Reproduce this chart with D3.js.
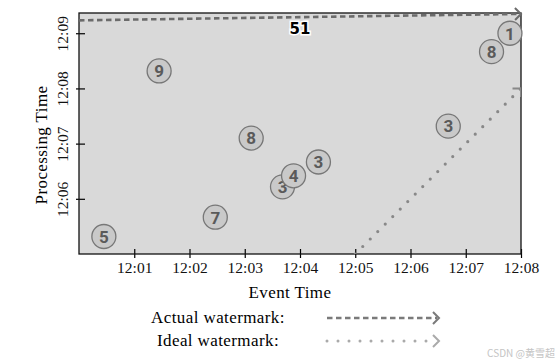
<!DOCTYPE html>
<html>
<head>
<meta charset="utf-8">
<script src="https://cdn.jsdelivr.net/npm/d3@7"></script>
<style>
  body { margin: 0; background: #fff; }
  svg text { font-family: "Liberation Serif", serif; }
</style>
</head>
<body>
<div id="chart"></div>
<script>
// Watermark chart
///

// points: label, event time, processing time
const pointLabels = [5, 9, 7, 8, 3, 4, 3, 3, 8, 1];
const eventTimes = ["12:00:27", "12:01:27", "12:02:28", "12:03:07", "12:03:41", "12:03:53", "12:04:20", "12:06:41", "12:07:28", "12:07:48"];
const procTimes = ["12:05:19", "12:08:19", "12:05:40", "12:07:06", "12:06:13", "12:06:25", "12:06:40", "12:07:19", "12:08:40", "12:09:00"];

// watermarks (event time, processing time)
const actualWm = [["12:00:00", "12:09:14"], ["12:08:00", "12:09:21"]];
const idealWm = [["12:05:00", "12:05:00"], ["12:08:00", "12:08:00"]];
const wmLabel = "51";
const wmLabelAt = ["12:04:00", "12:09:00"];

const xTicks = ["12:01", "12:02", "12:03", "12:04", "12:05", "12:06", "12:07", "12:08"];
const yTicks = ["12:06", "12:07", "12:08", "12:09"];
const xDomain = ["12:00:00", "12:08:00"];
const yDomain = ["12:05:00", "12:09:22"];

const legendItems = ["Actual watermark:", "Ideal watermark:"];

const w = 560, h = 364;
const m = { left: 79, right: 39, top: 13, bottom: 110 };

const parse = s => d3.timeParse("%H:%M:%S")(s.length == 5 ? s + ":00" : s);
const fmt = d3.timeFormat("%H:%M");

let svg = d3.select("#chart").append("svg")
	.attr("width", w).attr("height", h);

const x = d3.scaleTime().domain(xDomain.map(parse)).range([m.left, w - m.right]);
const y = d3.scaleTime().domain(yDomain.map(parse)).range([h - m.bottom, m.top]);

// plot background
svg.append("rect")
	.attr("x", m.left).attr("y", m.top)
	.attr("width", x.range()[1] - m.left).attr("height", y.range()[0] - m.top)
	.attr("fill", "#d9d9d9");

svg.append("clipPath").attr("id", "plot-clip").append("rect")
	.attr("x", m.left).attr("y", m.top - 10)
	.attr("width", x.range()[1] - m.left).attr("height", y.range()[0] - m.top + 10);

// axes
let xAxis = svg.append("g")
	.attr("transform", "translate(0," + y.range()[0] + ")")
	.call(d3.axisBottom(x).tickValues(xTicks.map(parse)).tickFormat(fmt).tickSize(5));
xAxis.select(".domain").remove();
xAxis.selectAll(".tick line").attr("y1", -5).attr("y2", 4).attr("stroke", "#000").attr("stroke-width", 1.2);
xAxis.selectAll(".tick text")
	.attr("y", 19).attr("dy", "0")
	.style("font-family", "Liberation Serif, serif").style("font-size", "15.5px").attr("fill", "#111");

let yAxis = svg.append("g")
	.attr("transform", "translate(" + m.left + ",0)")
	.call(d3.axisLeft(y).tickValues(yTicks.map(parse)).tickFormat(fmt).tickSize(5));
yAxis.select(".domain").remove();
yAxis.selectAll(".tick line").attr("x1", -3).attr("x2", 6).attr("stroke", "#000").attr("stroke-width", 1.2);
yAxis.selectAll(".tick text")
	.attr("transform", "rotate(-90)")
	.attr("x", 0).attr("y", -16).attr("dy", "0.35em")
	.attr("text-anchor", "middle")
	.style("font-family", "Liberation Serif, serif").style("font-size", "15.5px").attr("fill", "#111");

// frame
svg.append("rect")
	.attr("x", m.left).attr("y", m.top)
	.attr("width", x.range()[1] - m.left).attr("height", y.range()[0] - m.top)
	.attr("fill", "none").attr("stroke", "#111").attr("stroke-width", 1.3);

// axis titles
svg.append("text")
	.attr("x", (m.left + x.range()[1]) / 2 - 10).attr("y", 298)
	.attr("text-anchor", "middle")
	.style("font-size", "17px").style("letter-spacing", "0.4px")
	.text("Event Time");

svg.append("text")
	.attr("transform", "translate(47,145) rotate(-90)")
	.attr("text-anchor", "middle")
	.style("font-size", "17px").style("letter-spacing", "0.4px")
	.text("Processing Time");

// arrow head: chevron at end of a line
function chevron(g, x1, y1, x2, y2, color, sw) {
	let a = Math.atan2(y2 - y1, x2 - x1) * 180 / Math.PI;
	g.append("path")
		.attr("d", "M-6,-6L0,0L-6,6")
		.attr("transform", "translate(" + x2 + "," + y2 + ") rotate(" + a + ")")
		.attr("fill", "none").attr("stroke", color).attr("stroke-width", sw);
}

const line = d3.line().x(d => x(parse(d[0]))).y(d => y(parse(d[1])));

// ideal watermark
let ideal = svg.append("g").attr("clip-path", "url(#plot-clip)");
ideal.append("path")
	.attr("d", line(idealWm))
	.attr("fill", "none").attr("stroke", "#888").attr("stroke-width", 3.2)
	.attr("stroke-linecap", "round").attr("stroke-dasharray", "0,10.6");
chevron(ideal, x(parse(idealWm[0][0])), y(parse(idealWm[0][1])),
	x(parse(idealWm[1][0])), y(parse(idealWm[1][1])), "#888", 2);

// points
let pts = svg.append("g").selectAll("g")
	.data(pointLabels.map((d, i) => ({ label: d, ev: parse(eventTimes[i]), pr: parse(procTimes[i]) })))
	.enter().append("g")
	.attr("transform", d => "translate(" + x(d.ev) + "," + y(d.pr) + ")");
pts.append("circle")
	.attr("r", 12)
	.attr("fill", "#c9c9c9").attr("stroke", "#777").attr("stroke-width", 1.3);
pts.append("text")
	.attr("text-anchor", "middle").attr("dy", "0.37em")
	.style("font-family", "Roboto, sans-serif").style("font-weight", "bold").style("font-size", "17px")
	.attr("fill", "#5a5a5a")
	.text(d => d.label);

// actual watermark
let actual = svg.append("g");
actual.append("path")
	.attr("d", line(actualWm))
	.attr("fill", "none").attr("stroke", "#6b6b6b").attr("stroke-width", 2.6)
	.attr("stroke-dasharray", "5.5,3.5");
chevron(actual, x(parse(actualWm[0][0])), y(parse(actualWm[0][1])),
	x(parse(actualWm[1][0])), y(parse(actualWm[1][1])), "#6b6b6b", 2);

svg.append("text")
	.attr("x", x(parse(wmLabelAt[0]))).attr("y", y(parse(wmLabelAt[1])) + 1)
	.attr("text-anchor", "middle")
	.style("font-family", "DejaVu Sans, sans-serif").style("font-weight", "bold").style("font-size", "15px")
	.attr("fill", "#000").attr("stroke", "#fff").attr("stroke-width", 3)
	.attr("paint-order", "stroke")
	.text(wmLabel);

// legend
let legend = svg.append("g").selectAll("g")
	.data(legendItems)
	.enter().append("g")
	.attr("transform", (d, i) => "translate(0," + (318 + i * 23) + ")");
legend.append("text")
	.attr("x", 218).attr("dy", "0.32em")
	.attr("text-anchor", "middle")
	.style("font-size", "17px").style("letter-spacing", "0.4px")
	.text(d => d);
legend.append("line")
	.attr("x1", 327).attr("x2", 437)
	.attr("stroke", (d, i) => i == 0 ? "#7a7a7a" : "#aaaaaa")
	.attr("stroke-width", (d, i) => i == 0 ? 2.6 : 3)
	.attr("stroke-linecap", (d, i) => i == 0 ? "butt" : "round")
	.attr("stroke-dasharray", (d, i) => i == 0 ? "5.5,3.5" : "0,11");
legend.each(function(d, i) {
	chevron(d3.select(this), 327, 0, 439, 0, i == 0 ? "#7a7a7a" : "#aaaaaa", 2);
});

// site watermark
svg.append("text")
	.attr("x", 555).attr("y", 357)
	.attr("text-anchor", "end")
	.style("font-family", "Noto Sans CJK SC, sans-serif").style("font-size", "10px")
	.attr("fill", "#c4c4c4")
	.text("CSDN @黄雪超");
</script>
</body>
</html>
